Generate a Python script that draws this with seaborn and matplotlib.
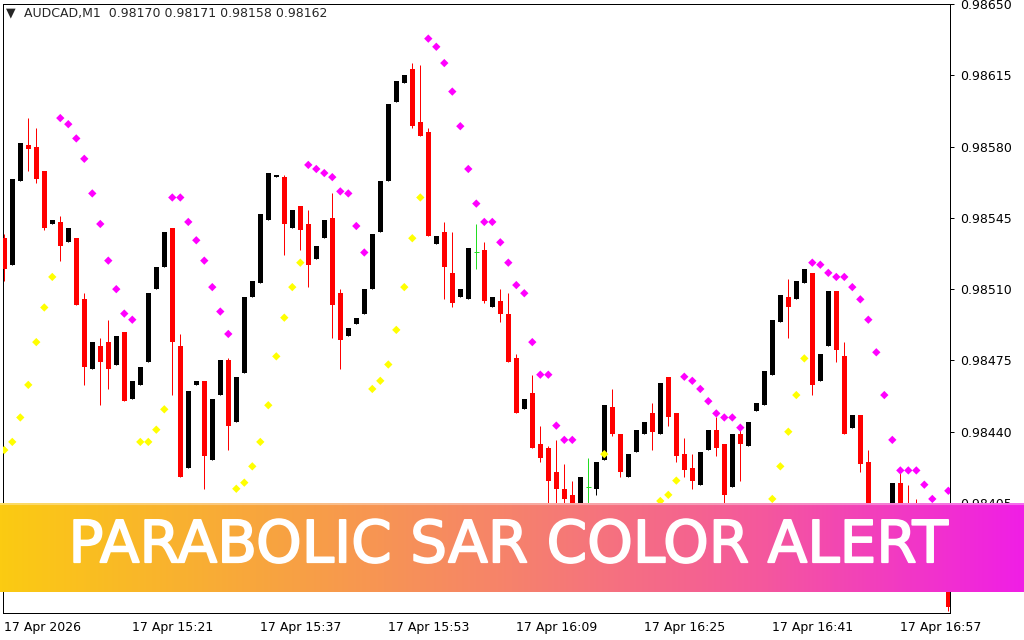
import numpy as np
import pandas as pd
import seaborn as sns
import matplotlib.pyplot as plt
import matplotlib.patheffects as pe
from matplotlib.colors import to_rgb

# candles, AUDCAD M1, one bar per minute from 15:05
opens = [0.98535, 0.98522, 0.98563, 0.98581, 0.98580, 0.98568, 0.98542, 0.98543, 0.98533, 0.98535,
         0.98505, 0.98471, 0.98482, 0.98484, 0.98473, 0.98489, 0.98456, 0.98463, 0.98474, 0.98510,
         0.98521, 0.98540, 0.98482, 0.98422, 0.98463, 0.98465, 0.98426, 0.98458, 0.98475, 0.98445,
         0.98469, 0.98506, 0.98513, 0.98544, 0.98565, 0.98565, 0.98540, 0.98551, 0.98542, 0.98525,
         0.98535, 0.98545, 0.98508, 0.98487, 0.98493, 0.98498, 0.98510, 0.98538, 0.98563, 0.98602,
         0.98611, 0.98618, 0.98592, 0.98587, 0.98532, 0.98538, 0.98518, 0.98506, 0.98505, 0.98528,
         0.98529, 0.98501, 0.98504, 0.98498, 0.98476, 0.98451, 0.98459, 0.98434, 0.98432, 0.98420,
         0.98412, 0.98409, 0.98397, 0.98413, 0.98412, 0.98426, 0.98452, 0.98439, 0.98418, 0.98430,
         0.98439, 0.98449, 0.98439, 0.98467, 0.98449, 0.98429, 0.98422, 0.98414, 0.98431, 0.98441,
         0.98434, 0.98413, 0.98439, 0.98433, 0.98450, 0.98453, 0.98468, 0.98494, 0.98506, 0.98505,
         0.98513, 0.98518, 0.98465, 0.98482, 0.98509, 0.98477, 0.98442, 0.98448, 0.98425, 0.98397,
         0.98377, 0.98387, 0.98415, 0.98402, 0.98397, 0.98380, 0.98392, 0.98377, 0.98365]
highs = [0.98537, 0.98564, 0.98582, 0.98594, 0.98589, 0.98568, 0.98544, 0.98546, 0.98540, 0.98535,
         0.98508, 0.98484, 0.98486, 0.98495, 0.98487, 0.98489, 0.98465, 0.98472, 0.98508, 0.98521,
         0.98538, 0.98540, 0.98488, 0.98460, 0.98465, 0.98465, 0.98456, 0.98475, 0.98476, 0.98467,
         0.98506, 0.98514, 0.98547, 0.98567, 0.98566, 0.98566, 0.98549, 0.98551, 0.98549, 0.98531,
         0.98544, 0.98557, 0.98510, 0.98491, 0.98496, 0.98510, 0.98537, 0.98563, 0.98601, 0.98612,
         0.98615, 0.98621, 0.98620, 0.98589, 0.98536, 0.98543, 0.98538, 0.98510, 0.98530, 0.98542,
         0.98533, 0.98506, 0.98510, 0.98508, 0.98478, 0.98456, 0.98468, 0.98443, 0.98433, 0.98436,
         0.98424, 0.98416, 0.98418, 0.98427, 0.98425, 0.98453, 0.98461, 0.98439, 0.98429, 0.98441,
         0.98445, 0.98454, 0.98464, 0.98467, 0.98449, 0.98437, 0.98429, 0.98430, 0.98441, 0.98447,
         0.98434, 0.98439, 0.98441, 0.98445, 0.98454, 0.98470, 0.98495, 0.98507, 0.98515, 0.98514,
         0.98520, 0.98518, 0.98478, 0.98509, 0.98509, 0.98484, 0.98448, 0.98448, 0.98431, 0.98397,
         0.98389, 0.98415, 0.98421, 0.98414, 0.98407, 0.98394, 0.98392, 0.98377, 0.98365]
lows = [0.98514, 0.98522, 0.98563, 0.98568, 0.98562, 0.98539, 0.98542, 0.98524, 0.98533, 0.98502,
        0.98463, 0.98471, 0.98453, 0.98461, 0.98473, 0.98455, 0.98456, 0.98463, 0.98474, 0.98510,
        0.98521, 0.98458, 0.98418, 0.98422, 0.98463, 0.98412, 0.98426, 0.98458, 0.98431, 0.98445,
        0.98469, 0.98506, 0.98513, 0.98544, 0.98565, 0.98527, 0.98540, 0.98529, 0.98511, 0.98525,
        0.98535, 0.98486, 0.98471, 0.98487, 0.98493, 0.98498, 0.98510, 0.98538, 0.98563, 0.98602,
        0.98611, 0.98589, 0.98585, 0.98536, 0.98532, 0.98505, 0.98501, 0.98506, 0.98505, 0.98520,
        0.98503, 0.98501, 0.98494, 0.98474, 0.98449, 0.98451, 0.98432, 0.98425, 0.98399, 0.98402,
        0.98401, 0.98397, 0.98394, 0.98399, 0.98409, 0.98426, 0.98438, 0.98418, 0.98418, 0.98430,
        0.98439, 0.98431, 0.98439, 0.98443, 0.98425, 0.98418, 0.98412, 0.98414, 0.98431, 0.98428,
        0.98404, 0.98413, 0.98416, 0.98433, 0.98450, 0.98453, 0.98468, 0.98494, 0.98486, 0.98505,
        0.98513, 0.98458, 0.98465, 0.98482, 0.98474, 0.98439, 0.98442, 0.98420, 0.98394, 0.98375,
        0.98377, 0.98387, 0.98392, 0.98387, 0.98383, 0.98380, 0.98377, 0.98365, 0.98352]
closes = [0.98520, 0.98564, 0.98582, 0.98579, 0.98564, 0.98540, 0.98544, 0.98531, 0.98540, 0.98502,
          0.98472, 0.98484, 0.98474, 0.98471, 0.98487, 0.98455, 0.98465, 0.98472, 0.98508, 0.98521,
          0.98538, 0.98484, 0.98418, 0.98460, 0.98465, 0.98428, 0.98456, 0.98475, 0.98443, 0.98467,
          0.98506, 0.98514, 0.98547, 0.98567, 0.98566, 0.98542, 0.98549, 0.98539, 0.98522, 0.98531,
          0.98544, 0.98502, 0.98485, 0.98491, 0.98496, 0.98510, 0.98537, 0.98563, 0.98601, 0.98612,
          0.98615, 0.98590, 0.98585, 0.98536, 0.98536, 0.98521, 0.98503, 0.98510, 0.98530, 0.98528,
          0.98504, 0.98506, 0.98498, 0.98474, 0.98449, 0.98456, 0.98432, 0.98427, 0.98416, 0.98412,
          0.98407, 0.98401, 0.98418, 0.98413, 0.98425, 0.98453, 0.98439, 0.98420, 0.98429, 0.98441,
          0.98445, 0.98440, 0.98464, 0.98447, 0.98428, 0.98421, 0.98416, 0.98430, 0.98441, 0.98432,
          0.98409, 0.98439, 0.98434, 0.98445, 0.98454, 0.98470, 0.98495, 0.98507, 0.98501, 0.98514,
          0.98520, 0.98463, 0.98478, 0.98509, 0.98480, 0.98439, 0.98448, 0.98424, 0.98397, 0.98377,
          0.98389, 0.98415, 0.98392, 0.98387, 0.98383, 0.98394, 0.98377, 0.98365, 0.98354]

# parabolic SAR dots (nan = not visible)
nan = np.nan
sar = [0.98431, 0.98435, 0.98447, 0.98463, 0.98484, 0.98501, 0.98516, 0.98594, 0.98591, 0.98584,
       0.98574, 0.98557, 0.98542, 0.98524, 0.98510, 0.98498, 0.98495, 0.98435, 0.98435, 0.98441,
       0.98451, 0.98555, 0.98555, 0.98543, 0.98534, 0.98524, 0.98511, 0.98499, 0.98488, 0.98412,
       0.98415, 0.98423, 0.98435, 0.98453, 0.98477, 0.98496, 0.98511, 0.98523, 0.98571, 0.98569,
       0.98567, 0.98565, 0.98558, 0.98557, 0.98541, 0.98528, 0.98461, 0.98465, 0.98473, 0.98490,
       0.98511, 0.98535, 0.98555, 0.98633, 0.98629, 0.98621, 0.98607, 0.98590, 0.98569, 0.98552,
       0.98543, 0.98543, 0.98533, 0.98523, 0.98512, 0.98508, 0.98484, 0.98468, 0.98468, 0.98443,
       0.98436, 0.98436, nan, nan, nan, 0.98429, nan, nan, nan, nan,
       nan, nan, 0.98406, 0.98409, 0.98416, 0.98467, 0.98465, 0.98461, 0.98455, 0.98449,
       0.98447, 0.98447, 0.98442, nan, nan, nan, 0.98407, 0.98423, 0.98440, 0.98458,
       0.98476, 0.98523, 0.98522, 0.98518, 0.98516, 0.98516, 0.98511, 0.98505, 0.98495, 0.98479,
       0.98458, 0.98436, 0.98421, 0.98421, 0.98421, 0.98414, 0.98407, nan, 0.98411]

doji_bars = [59, 73]

tick_bars = [0, 16, 32, 48, 64, 80, 96, 112]
tick_labels = ["17 Apr 2026", "17 Apr 15:21", "17 Apr 15:37", "17 Apr 15:53",
               "17 Apr 16:09", "17 Apr 16:25", "17 Apr 16:41", "17 Apr 16:57"]
price_ticks = [0.98405, 0.98440, 0.98475, 0.98510, 0.98545, 0.98580, 0.98615, 0.98650]

header = "AUDCAD,M1  0.98170 0.98171 0.98158 0.98162"
banner_text = "PARABOLIC SAR COLOR ALERT"

df = pd.DataFrame({"bar": np.arange(len(opens)), "open": opens, "high": highs,
                   "low": lows, "close": closes, "sar": sar})
df["bull"] = df["close"] >= df["open"]
df["side"] = np.where(df["sar"] > df["close"], "above", "below")

sns.set_style("white")
plt.rcParams["font.family"] = ["DejaVu Sans"]

fig = plt.figure(figsize=(10.24, 6.4), dpi=100)
ax = fig.add_axes([3 / 1024, 27 / 640, 947 / 1024, 609 / 640])

px = 0.72
normal = df[~df["bar"].isin(doji_bars)]
for bull, col in [(True, "black"), (False, "#ff0000")]:
    part = normal[normal["bull"] == bull]
    ax.vlines(part["bar"], part["low"], part["high"], color=col, lw=px, zorder=2)
    body_lo = np.minimum(part["open"], part["close"])
    body_h = np.maximum(np.abs(part["close"] - part["open"]), 0.000008)
    ax.bar(part["bar"], body_h, bottom=body_lo, width=0.6, color=col, linewidth=0, zorder=3)

dj = df[df["bar"].isin(doji_bars)]
ax.vlines(dj["bar"], dj["low"], dj["high"], color="#22dd22", lw=px, zorder=2)
ax.hlines(dj["close"], dj["bar"] - 0.3, dj["bar"] + 0.3, color="#22dd22", lw=px, zorder=2)

dots = df.dropna(subset=["sar"])
sns.scatterplot(data=dots, x="bar", y="sar", hue="side",
                palette={"above": "#ff00ff", "below": "#ffff00"},
                marker="D", s=18, linewidth=0, legend=False, ax=ax, zorder=4)

ax.set_xlim(-0.16, 118.21)
ax.set_ylim(0.98351, 0.98650)
ax.set_xlabel("")
ax.set_ylabel("")

ax.set_xticks(tick_bars)
ax.set_xticklabels(tick_labels, ha="left", fontsize=9)
ax.yaxis.tick_right()
ax.set_yticks(price_ticks)
ax.set_yticklabels([f"{p:.5f}" for p in price_ticks], fontsize=9)
ax.tick_params(axis="x", direction="out", length=3, width=px, pad=3, colors="black")
ax.tick_params(axis="y", direction="out", length=3, width=px, pad=4, colors="black")
for sp in ax.spines.values():
    sp.set_visible(True)
    sp.set_color("black")
    sp.set_linewidth(px)

fig.text(11 / 1024, 1 - 13 / 640, "\u25bc", fontsize=9, ha="center", va="center")
fig.text(24 / 1024, 1 - 14 / 640, header, fontsize=9, ha="left", va="center")

# gradient banner
stops = ["#fbcb12", "#f8a63d", "#f6826c", "#f4579e", "#f01ee6"]
pos = np.linspace(0, 1, len(stops))
grid = np.linspace(0, 1, 512)
rgb = np.array([to_rgb(c) for c in stops])
grad = np.stack([np.interp(grid, pos, rgb[:, k]) for k in range(3)], axis=-1)[None, :, :]
bax = fig.add_axes([0, 1 - 592 / 640, 1, 89 / 640])
bax.imshow(grad, aspect="auto", extent=[0, 1, 0, 1])
bax.axhline(0.985, color="white", alpha=0.35, lw=1.5)
bax.set_axis_off()
bax.text(0.496, 0.52, banner_text, color="white", fontsize=41.8, ha="center", va="center",
         transform=bax.transAxes,
         path_effects=[pe.withStroke(linewidth=1.3, foreground="white")])

fig.savefig("out.png", dpi=100)
